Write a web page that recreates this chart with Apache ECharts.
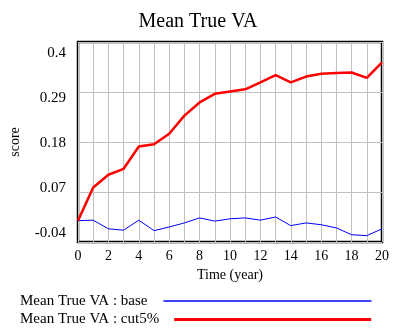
<!DOCTYPE html>
<html><head><meta charset="utf-8">
<script src="https://cdn.jsdelivr.net/npm/echarts@6/dist/echarts.min.js"></script>
<style>html,body{margin:0;padding:0;background:#fff}#c{width:396px;height:329px}</style>
</head><body><div id="c"></div>
<script>
const years = [0,1,2,3,4,5,6,7,8,9,10,11,12,13,14,15,16,17,18,19,20];
const baseVals = [0.007,0.008,-0.011,-0.014,0.008,-0.015,-0.007,0.002,0.013,0.006,0.011,0.013,0.008,0.015,-0.004,0.002,-0.002,-0.009,-0.024,-0.026,-0.011];
const cutVals = [0.007,0.080,0.108,0.121,0.170,0.175,0.198,0.238,0.267,0.286,0.291,0.296,0.311,0.327,0.311,0.324,0.330,0.332,0.333,0.321,0.355];
const yTickLabels = [-0.04,0.07,0.18,0.29,0.4];
const xTickLabels = [0,2,4,6,8,10,12,14,16,18,20];
const nameBase = 'Mean True VA : base';
const nameCut = 'Mean True VA : cut5%';

const font = 'Liberation Serif, Times New Roman, serif';
const chart = echarts.init(document.getElementById('c'), null, {renderer:'canvas'});
chart.setOption({
  animation:false,
  backgroundColor:'#fff',
  title:{text:'Mean True VA', left:'center', top:7, textStyle:{fontFamily:font, fontSize:20, fontWeight:'normal', color:'#000'}},
  grid:{left:73, right:14, top:42, bottom:87, show:true, borderColor:'#000', borderWidth:2.5, backgroundColor:'transparent'},
  legend:[
    {data:[nameBase], left:20, top:293.5, padding:0, align:'right', orient:'horizontal', icon:'rect', itemWidth:208, itemHeight:1.5,
     textStyle:{fontFamily:font, fontSize:15, color:'#000', padding:[0,11,0,0]}, selectedMode:false},
    {data:[nameCut], left:20, top:312, padding:0, align:'right', orient:'horizontal', icon:'rect', itemWidth:197, itemHeight:3,
     textStyle:{fontFamily:font, fontSize:15, color:'#000', padding:[0,10,0,0]}, selectedMode:false}
  ],
  xAxis:{type:'value', min:0, max:20, interval:1,
    name:'Time (year)', nameLocation:'middle', nameGap:23,
    nameTextStyle:{fontFamily:font, fontSize:14, color:'#000'},
    axisLine:{show:false}, axisTick:{show:false},
    axisLabel:{fontFamily:font, fontSize:14, color:'#000', margin:7,
      formatter:v => xTickLabels.indexOf(v) >= 0 ? String(v) : ''},
    splitLine:{show:true, lineStyle:{color:'#c0c0c0', width:1}}},
  yAxis:[
    {type:'value', min:-0.04, max:0.4, show:false, splitLine:{show:false}},
    {type:'value', min:0, max:0.44, interval:0.11, position:'left',
     axisLine:{show:false}, axisTick:{show:false}, axisLabel:{show:false},
     splitLine:{show:true, lineStyle:{color:'#c0c0c0', width:1}}},
    {type:'value', min:-0.0619, max:0.4261, position:'left',
     name:'score', nameLocation:'middle', nameGap:56, nameRotate:90,
     nameTextStyle:{fontFamily:font, fontSize:14, color:'#000'},
     axisLine:{show:false}, axisTick:{show:false}, splitLine:{show:false},
     axisLabel:{fontFamily:font, fontSize:15, color:'#000', margin:12, customValues:yTickLabels,
       formatter:v => String(Math.round(v*100)/100)}}
  ],
  series:[
    {name:nameBase, type:'line', yAxisIndex:0, showSymbol:false, symbol:'none',
     data:years.map((x,i)=>[x, baseVals[i]]), lineStyle:{color:'#0000ff', width:1}, itemStyle:{color:'#0000ff'}, z:3},
    {name:nameCut, type:'line', yAxisIndex:0, showSymbol:false, symbol:'none',
     data:years.map((x,i)=>[x, cutVals[i]]), lineStyle:{color:'#ff0000', width:2.5}, itemStyle:{color:'#ff0000'}, z:4}
  ]
});
</script></body></html>
